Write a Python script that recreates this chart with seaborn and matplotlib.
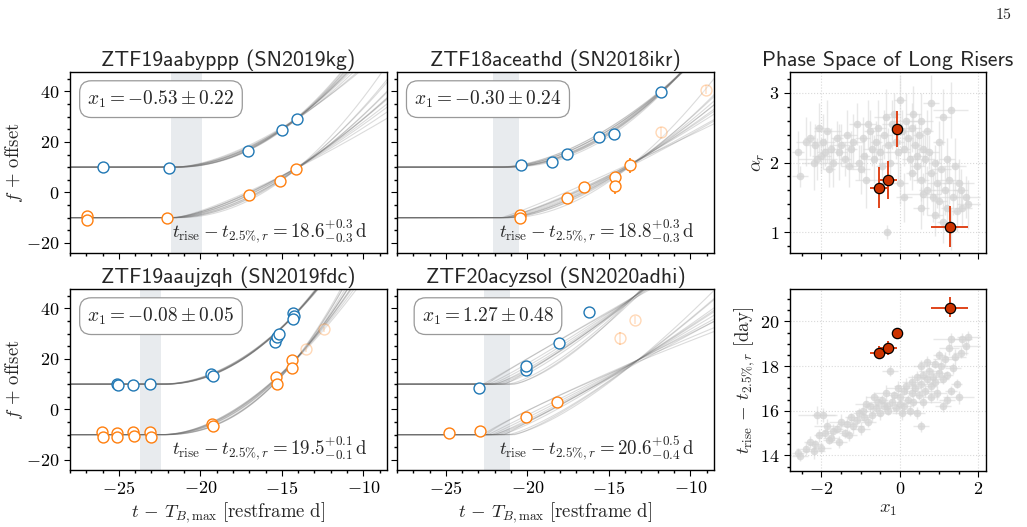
import numpy as np
import pandas as pd
import seaborn as sns
import matplotlib.pyplot as plt
from matplotlib.ticker import MultipleLocator

# ---------------------------------------------------------------------
# Light curves of the four long risers (t - T_Bmax, flux + offset)
titles = ['ZTF19aabyppp (SN2019kg)', 'ZTF18aceathd (SN2018ikr)',
          'ZTF19aaujzqh (SN2019fdc)', 'ZTF20acyzsol (SN2020adhi)']
x1_labels = ['-0.53 \\pm 0.22', '-0.30 \\pm 0.24', '-0.08 \\pm 0.05', '1.27 \\pm 0.48']
trise_labels = ['18.6^{+0.3}_{-0.3}', '18.8^{+0.3}_{-0.3}', '19.5^{+0.1}_{-0.1}', '20.6^{+0.5}_{-0.4}']
bands_t25 = [(-21.8, -19.9), (-22.1, -20.5), (-23.7, -22.4), (-22.65, -21.08)]
g_offset = 10
r_offset = -10

# SN2019kg
kg_g_t = [-25.98, -21.94, -17.1, -15.0, -14.1]
kg_g_f = [9.9, 9.6, 16.4, 24.8, 29.2]
kg_r_t = [-26.98, -26.98, -22.04, -17.04, -15.1, -14.14]
kg_r_f = [-9.3, -11.0, -10.2, -1.2, 4.6, 9.4]
# SN2018ikr
ikr_g_t = [-20.39, -18.49, -17.55, -15.63, -14.71, -11.8]
ikr_g_f = [10.9, 12.1, 15.4, 21.8, 23.2, 39.9]
ikr_r_t = [-20.47, -20.47, -17.55, -16.55, -14.65, -14.63, -13.69]
ikr_r_f = [-9.1, -10.2, -2.3, 2.1, 6.3, 2.7, 10.8]
ikr_r_err = [0.5, 0.5, 0.6, 0.8, 1.0, 3.5, 3.0]
ikr_r_late_t = [-11.8, -9.04]
ikr_r_late_f = [23.8, 40.7]
ikr_r_late_err = [2.2, 1.8]
# SN2019fdc
fdc_g_t = [-25.1, -25.05, -24.12, -23.12, -19.35, -19.24, -15.41, -15.27, -15.2, -14.33, -14.24, -14.3]
fdc_g_f = [10.1, 9.7, 9.7, 9.9, 14.0, 13.4, 26.8, 28.5, 29.8, 38.0, 37.0, 36.0]
fdc_r_t = [-26.02, -25.96, -25.14, -25.1, -24.14, -24.08, -23.08, -23.06, -19.27, -19.22,
           -15.35, -15.31, -14.39, -14.37]
fdc_r_f = [-9.1, -10.8, -9.5, -11.0, -9.1, -10.4, -9.1, -11.0, -5.8, -6.4, 12.7, 10.1, 19.6, 16.3]
fdc_r_late_t = [-13.49, -12.41]
fdc_r_late_f = [23.9, 31.8]
fdc_r_late_err = [1.0, 1.0]
# SN2020adhi
adhi_g_t = [-22.98, -20.06, -20.06, -18.08, -16.22]
adhi_g_f = [8.5, 15.6, 17.2, 26.4, 38.4]
adhi_g_err = [0.6, 1.8, 1.2, 0.8, 1.5]
adhi_r_t = [-24.82, -22.92, -20.06, -18.16]
adhi_r_f = [-9.45, -8.53, -2.86, 2.8]
adhi_r_late_t = [-14.29, -13.37]
adhi_r_late_f = [28.1, 35.4]
adhi_r_late_err = [2.5, 1.5]

# posterior draws of the rise model: (start time, rise at pivot epoch, power-law index)
kg_pivot = (-14.1, -14.14)
kg_g_draws = [(-21.6, 19.2, 1.95), (-21.5, 19.0, 2.0), (-21.8, 19.5, 1.9), (-21.4, 18.9, 2.05),
              (-21.7, 19.3, 1.85), (-21.6, 19.6, 2.1), (-21.5, 18.8, 1.8), (-21.9, 19.1, 2.0),
              (-21.3, 19.4, 1.95), (-21.6, 19.0, 1.7), (-21.7, 19.2, 2.15), (-21.5, 19.3, 1.6)]
kg_r_draws = [(-21.6, 19.4, 1.6), (-21.5, 19.0, 1.7), (-21.8, 19.8, 1.5), (-21.4, 19.2, 1.8),
              (-21.7, 19.6, 1.45), (-21.6, 18.9, 1.9), (-21.5, 19.5, 1.35), (-21.9, 19.3, 1.65),
              (-21.3, 19.1, 2.0), (-21.6, 19.7, 1.55), (-21.7, 19.0, 1.75), (-21.5, 19.4, 1.25)]
ikr_pivot = (-11.8, -13.7)
ikr_g_draws = [(-21.5, 29.9, 1.9), (-21.4, 29.5, 1.95), (-21.7, 30.3, 1.85), (-21.3, 29.2, 2.0),
               (-21.6, 30.0, 1.8), (-21.5, 29.6, 2.05), (-21.8, 30.5, 1.75), (-21.4, 29.8, 1.9),
               (-21.2, 29.0, 2.1), (-21.6, 30.2, 1.7), (-21.5, 29.4, 1.95), (-21.7, 30.0, 1.85)]
ikr_r_draws = [(-21.3, 20.8, 1.4), (-21.2, 20.4, 1.5), (-21.5, 21.2, 1.3), (-21.1, 20.6, 1.6),
               (-21.4, 21.0, 1.2), (-21.3, 20.2, 1.7), (-21.6, 21.4, 1.1), (-21.2, 20.9, 1.45),
               (-21.0, 20.5, 1.85), (-21.4, 21.1, 1.35), (-21.3, 20.7, 1.55), (-21.5, 20.3, 1.25)]
fdc_pivot = (-14.3, -14.4)
fdc_g_draws = [(-22.3, 27.0, 2.0), (-22.2, 26.8, 2.02), (-22.4, 27.2, 1.98), (-22.3, 27.1, 2.05),
               (-22.2, 26.9, 1.96), (-22.4, 27.0, 2.03), (-22.3, 26.7, 1.99), (-22.1, 27.3, 2.01),
               (-22.5, 27.0, 1.97), (-22.3, 26.9, 2.04), (-22.2, 27.1, 2.0), (-22.4, 26.8, 1.95)]
fdc_r_draws = [(-22.3, 28.0, 2.0), (-22.2, 27.6, 2.1), (-22.4, 28.4, 1.9), (-22.3, 27.8, 2.2),
               (-22.2, 28.2, 1.85), (-22.4, 27.9, 2.05), (-22.3, 28.3, 1.8), (-22.1, 27.7, 2.15),
               (-22.5, 28.1, 1.95), (-22.3, 27.9, 2.25), (-22.2, 28.0, 1.75), (-22.4, 28.2, 2.0)]
adhi_pivot = (-14.3, -14.3)
adhi_g_draws = [(-22.0, 30.6, 1.2), (-21.6, 30.0, 1.3), (-22.4, 31.2, 1.1), (-21.2, 29.5, 1.4),
                (-22.7, 31.5, 1.0), (-21.0, 29.0, 1.5), (-22.2, 30.8, 1.15), (-21.8, 30.3, 1.25),
                (-20.8, 28.5, 1.35), (-22.5, 31.0, 0.95), (-21.4, 29.8, 1.1), (-22.1, 30.4, 1.3)]
adhi_r_draws = [(-22.0, 25.6, 1.1), (-21.6, 25.0, 1.2), (-22.4, 26.2, 1.0), (-21.2, 24.5, 1.3),
                (-22.7, 26.5, 0.9), (-21.0, 24.0, 1.4), (-22.2, 25.8, 1.05), (-21.8, 25.3, 1.15),
                (-20.8, 24.2, 1.25), (-22.5, 26.0, 0.85), (-21.4, 24.8, 1.0), (-22.1, 25.4, 1.2)]

# ---------------------------------------------------------------------
# Phase space: full sample (grey) and the four long risers (red)
pop_x1 = [-2.60, -2.55, -2.40, -2.30, -2.20, -2.15, -2.05, -2.00, -1.95, -1.90, -1.85, -1.80,
          -1.75, -1.70, -1.60, -1.55, -1.50, -1.40, -1.35, -1.30, -1.25, -1.20, -1.10, -1.05,
          -1.00, -0.95, -0.90, -0.85, -0.80, -0.75, -0.70, -0.65, -0.60, -0.55, -0.50, -0.45,
          -0.40, -0.35, -0.30, -0.25, -0.20, -0.15, -0.10, -0.05, 0.00, 0.00, 0.05, 0.10,
          0.10, 0.15, 0.20, 0.25, 0.30, 0.30, 0.35, 0.40, 0.45, 0.45, 0.50, 0.55,
          0.55, 0.60, 0.65, 0.55, 0.70, 0.70, 0.75, 0.80, 0.80, 0.85, 0.90, 0.90,
          0.95, 1.00, 1.00, 1.05, 1.10, 1.10, 1.15, 1.20, 1.20, 1.25, 1.30, 1.35,
          1.40, 1.45, 1.50, 1.55, 1.60, 1.70, 1.75, 1.30, -0.32, -2.10, 0.60]
pop_x1_err = [0.15, 0.20, 0.25, 0.15, 0.30, 0.20, 0.15, 0.25, 0.30, 0.20, 0.35, 0.15,
              0.20, 0.25, 0.15, 0.20, 0.30, 0.15, 0.25, 0.20, 0.15, 0.30, 0.20, 0.15,
              0.25, 0.20, 0.15, 0.30, 0.20, 0.15, 0.25, 0.20, 0.15, 0.20, 0.25, 0.15,
              0.20, 0.30, 0.15, 0.20, 0.25, 0.15, 0.20, 0.30, 0.15, 0.20, 0.25, 0.15,
              0.20, 0.30, 0.15, 0.20, 0.25, 0.15, 0.20, 0.15, 0.25, 0.20, 0.15, 0.30,
              0.20, 0.15, 0.25, 0.20, 0.15, 0.20, 0.25, 0.15, 0.20, 0.30, 0.15, 0.20,
              0.25, 0.15, 0.20, 0.25, 0.15, 0.20, 0.30, 0.15, 0.20, 0.25, 0.15, 0.20,
              0.30, 0.15, 0.40, 0.20, 0.25, 0.35, 0.30, 0.45, 0.10, 0.50, 0.45]
pop_alpha = [2.15, 1.80, 2.30, 2.35, 2.00, 2.25, 2.50, 2.10, 2.30, 2.15, 2.45, 1.90,
             2.20, 2.00, 2.35, 2.15, 2.25, 2.05, 2.40, 1.95, 2.20, 2.30, 2.55, 2.00,
             1.90, 2.35, 2.10, 1.75, 2.55, 2.45, 2.20, 2.05, 2.30, 2.50, 2.15, 1.95,
             2.40, 2.65, 2.25, 2.00, 2.55, 2.70, 2.30, 2.15, 2.90, 1.70, 2.45, 2.20,
             1.50, 2.60, 2.35, 2.05, 2.50, 1.85, 2.70, 2.25, 2.10, 1.95, 2.40, 2.60,
             1.75, 2.20, 2.05, 1.35, 2.45, 1.60, 2.15, 1.85, 2.85, 1.50, 2.00, 1.25,
             1.70, 2.30, 1.45, 1.90, 1.15, 2.65, 1.60, 1.35, 2.05, 1.75, 1.05, 1.50,
             1.95, 1.30, 1.70, 1.60, 1.35, 1.50, 1.40, 2.75, 1.00, 2.05, 1.55]
pop_alpha_err = [0.30, 0.15, 0.35, 0.25, 0.40, 0.30, 0.35, 0.25, 0.40, 0.20, 0.45, 0.25,
                 0.30, 0.35, 0.25, 0.40, 0.30, 0.25, 0.35, 0.30, 0.25, 0.40, 0.30, 0.25,
                 0.35, 0.30, 0.25, 0.40, 0.35, 0.30, 0.25, 0.35, 0.30, 0.40, 0.25, 0.30,
                 0.35, 0.40, 0.25, 0.30, 0.35, 0.30, 0.25, 0.40, 0.35, 0.30, 0.30, 0.25,
                 0.35, 0.40, 0.25, 0.30, 0.35, 0.25, 0.40, 0.30, 0.35, 0.25, 0.30, 0.40,
                 0.30, 0.25, 0.35, 0.30, 0.30, 0.35, 0.25, 0.30, 0.40, 0.35, 0.25, 0.30,
                 0.35, 0.30, 0.25, 0.35, 0.30, 0.40, 0.35, 0.25, 0.30, 0.35, 0.30, 0.25,
                 0.40, 0.30, 0.35, 0.30, 0.25, 0.30, 0.35, 0.40, 0.10, 0.30, 0.30]
pop_trise = [14.10, 13.95, 14.30, 14.60, 14.20, 14.50, 14.90, 14.35, 15.80, 15.00, 15.30, 14.70,
             14.80, 15.10, 15.20, 14.60, 15.50, 15.00, 15.40, 14.90, 15.70, 15.30, 15.60, 15.90,
             15.20, 16.00, 15.70, 16.30, 15.50, 16.20, 15.80, 16.60, 16.10, 16.40, 15.90, 16.50,
             16.20, 16.80, 16.00, 17.80, 16.40, 16.70, 16.10, 17.00, 16.30, 16.60, 15.90, 16.90,
             16.20, 17.10, 16.50, 16.00, 17.30, 16.80, 16.40, 17.00, 17.50, 15.90, 16.70, 17.20,
             18.00, 17.60, 16.90, 15.30, 17.40, 18.20, 17.80, 17.10, 16.60, 17.50, 18.10, 17.30,
             16.80, 18.50, 17.70, 18.00, 17.40, 16.20, 18.30, 17.60, 16.50, 18.80, 16.90, 17.90,
             18.40, 17.20, 16.60, 18.60, 19.20, 18.90, 19.30, 19.20, 16.20, 15.80, 16.40]
pop_trise_err = [0.25, 0.20, 0.30, 0.25, 0.35, 0.20, 0.30, 0.25, 0.30, 0.20, 0.35, 0.20,
                 0.25, 0.30, 0.20, 0.25, 0.35, 0.20, 0.30, 0.25, 0.20, 0.35, 0.25, 0.20,
                 0.30, 0.25, 0.20, 0.35, 0.25, 0.20, 0.30, 0.25, 0.20, 0.25, 0.30, 0.20,
                 0.25, 0.35, 0.20, 0.25, 0.30, 0.20, 0.25, 0.35, 0.20, 0.25, 0.30, 0.20,
                 0.25, 0.35, 0.20, 0.25, 0.30, 0.20, 0.25, 0.20, 0.30, 0.25, 0.20, 0.35,
                 0.25, 0.20, 0.30, 0.25, 0.20, 0.25, 0.30, 0.20, 0.25, 0.35, 0.20, 0.25,
                 0.30, 0.20, 0.25, 0.30, 0.20, 0.25, 0.35, 0.20, 0.25, 0.30, 0.20, 0.25,
                 0.35, 0.20, 0.30, 0.25, 0.30, 0.40, 0.25, 0.30, 0.20, 0.40, 0.30]

sel_x1 = [-0.53, -0.30, -0.08, 1.27]
sel_x1_err = [0.22, 0.24, 0.05, 0.48]
sel_alpha = [1.64, 1.75, 2.48, 1.08]
sel_alpha_err = [0.30, 0.27, 0.26, 0.30]
sel_trise = [18.6, 18.8, 19.5, 20.6]
sel_trise_lo = [0.3, 0.3, 0.1, 0.4]
sel_trise_hi = [0.3, 0.3, 0.1, 0.5]

# ---------------------------------------------------------------------
sns.set_theme(style='ticks')
plt.rcParams.update({
    'font.family': 'serif',
    'font.serif': ['cmr10'],
    'mathtext.fontset': 'cm',
    'axes.formatter.use_mathtext': True,
    'axes.edgecolor': 'black',
    'axes.linewidth': 1.0,
    'xtick.color': 'black', 'ytick.color': 'black',
    'xtick.labelsize': 13, 'ytick.labelsize': 13,
    'xtick.major.size': 4, 'ytick.major.size': 4,
    'xtick.minor.size': 2, 'ytick.minor.size': 2,
    'xtick.major.width': 0.8, 'ytick.major.width': 0.8,
})

BLUE = '#1f77b4'
ORANGE = '#ff7f0e'
RED = '#cc3300'

fig = plt.figure(figsize=(10.27, 5.27), dpi=100)
W, H = 1027, 527


def add_ax(x0, x1, y0, y1):
    return fig.add_axes([x0 / W, 1 - y1 / H, (x1 - x0) / W, (y1 - y0) / H])


lc_axes = [add_ax(70, 387, 72, 253), add_ax(397, 714, 72, 253),
           add_ax(70, 387, 289, 470), add_ax(397, 714, 289, 470)]
ax_alpha = add_ax(790, 986, 72, 253)
ax_trise = add_ax(790, 986, 289, 471)

t_grid = np.linspace(-28.5, -8.0, 400)


def draw_fan(ax, draws, pivot, base):
    rows = []
    for k, (t0, rise, index) in enumerate(draws):
        dt = np.clip(t_grid - t0, 0, None) / (pivot - t0)
        rows.append(pd.DataFrame({'t': t_grid, 'f': base + rise * dt ** index, 'draw': k}))
    df = pd.concat(rows)
    sns.lineplot(data=df, x='t', y='f', units='draw', estimator=None, color='0.42',
                 alpha=0.24, lw=0.8, ax=ax, legend=False, zorder=1)


def draw_points(ax, t, f, c, err=None, alpha=1.0):
    if err is not None:
        ax.errorbar(t, f, yerr=err, fmt='none', ecolor=c, elinewidth=1.2, alpha=alpha, zorder=2)
    sns.scatterplot(x=t, y=f, ax=ax, color='white', edgecolor=c, s=62, linewidth=1.0,
                    alpha=alpha, zorder=3, legend=False)


lc_data = [
    (kg_g_t, kg_g_f, None, kg_r_t, kg_r_f, None, None, None, None, kg_g_draws, kg_r_draws, kg_pivot),
    (ikr_g_t, ikr_g_f, None, ikr_r_t, ikr_r_f, ikr_r_err, ikr_r_late_t, ikr_r_late_f, ikr_r_late_err,
     ikr_g_draws, ikr_r_draws, ikr_pivot),
    (fdc_g_t, fdc_g_f, None, fdc_r_t, fdc_r_f, None, fdc_r_late_t, fdc_r_late_f, fdc_r_late_err,
     fdc_g_draws, fdc_r_draws, fdc_pivot),
    (adhi_g_t, adhi_g_f, adhi_g_err, adhi_r_t, adhi_r_f, None, adhi_r_late_t, adhi_r_late_f,
     adhi_r_late_err, adhi_g_draws, adhi_r_draws, adhi_pivot),
]

for i, ax in enumerate(lc_axes):
    (gt, gf, gerr, rt, rf, rerr, lt, lf, lerr, gdraws, rdraws, pivot) = lc_data[i]
    ax.axvspan(*bands_t25[i], color='#e3e6ea', alpha=0.8, lw=0, zorder=0)
    draw_fan(ax, gdraws, pivot[0], g_offset)
    draw_fan(ax, rdraws, pivot[1], r_offset)
    draw_points(ax, gt, gf, BLUE, gerr)
    draw_points(ax, rt, rf, ORANGE, rerr)
    if lt is not None:
        draw_points(ax, lt, lf, ORANGE, lerr, alpha=0.3)

    ax.set_xlim(-28, -8.55)
    ax.set_ylim(-24, 47.7)
    ax.xaxis.set_major_locator(MultipleLocator(5))
    ax.xaxis.set_minor_locator(MultipleLocator(1))
    ax.yaxis.set_major_locator(MultipleLocator(20))
    ax.yaxis.set_minor_locator(MultipleLocator(5))
    ax.tick_params(which='both', direction='out')
    ax.set_title(titles[i], fontsize=15.7, family='cmss10', pad=4)
    ax.text(0.287, 0.85, f'$x_1 = {x1_labels[i]}$', transform=ax.transAxes, fontsize=13.9,
            ha='center', va='center',
            bbox=dict(boxstyle='round,pad=0.4,rounding_size=0.6', fc='white', ec='0.6', lw=0.9))
    ax.text(0.94, 0.115, r'$t_\mathrm{rise} - t_{2.5\%,r} = ' + trise_labels[i] + r'\,\mathrm{d}$',
            transform=ax.transAxes, fontsize=13.6, ha='right', va='center')
    if i < 2:
        ax.set_xticklabels([])
        ax.set_xlabel('')
    else:
        ax.set_xlabel(r'$t\,-\,T_{B,\mathrm{max}}\ [\mathrm{restframe\ d}]$', fontsize=13.5,
                      labelpad=2)
    if i % 2 == 0:
        ax.set_ylabel(r'$f\,+\,\mathrm{offset}$', fontsize=13.5, labelpad=1)
    else:
        ax.set_yticklabels([])
        ax.set_ylabel('')

# phase-space panels
for ax, y, yerr_sel, yerr_pop in [
        (ax_alpha, (pop_alpha, sel_alpha), sel_alpha_err, pop_alpha_err),
        (ax_trise, (pop_trise, sel_trise), [sel_trise_lo, sel_trise_hi], pop_trise_err)]:
    ax.grid(True, ls=':', color='0.85', lw=0.8)
    ax.set_axisbelow(True)
    ax.errorbar(pop_x1, y[0], xerr=pop_x1_err, yerr=yerr_pop, fmt='none', ecolor='#d9d9d9',
                elinewidth=1.0, alpha=0.6, zorder=1)
    sns.scatterplot(x=pop_x1, y=y[0], ax=ax, color='#d3d3d3', s=30, linewidth=0, alpha=0.75,
                    zorder=2, legend=False)
    ax.errorbar(sel_x1, y[1], xerr=sel_x1_err, yerr=yerr_sel, fmt='none', ecolor='#e0441a',
                elinewidth=1.4, zorder=3)
    sns.scatterplot(x=sel_x1, y=y[1], ax=ax, color=RED, edgecolor='black', s=55, linewidth=0.9,
                    zorder=4, legend=False)
    ax.set_xlim(-2.8, 2.2)
    ax.xaxis.set_major_locator(MultipleLocator(2))
    ax.xaxis.set_minor_locator(MultipleLocator(0.5))
    ax.tick_params(which='both', direction='out')

ax_alpha.set_ylim(0.7, 3.3)
ax_alpha.yaxis.set_major_locator(MultipleLocator(1))
ax_alpha.yaxis.set_minor_locator(MultipleLocator(0.2))
ax_alpha.set_xticklabels([])
ax_alpha.set_xlabel('')
ax_alpha.set_ylabel(r'$\alpha_r$', fontsize=13.5, labelpad=2)
ax_alpha.set_title('Phase Space of Long Risers', fontsize=15.7, family='cmss10', pad=4)

ax_trise.set_ylim(13.3, 21.45)
ax_trise.yaxis.set_major_locator(MultipleLocator(2))
ax_trise.yaxis.set_minor_locator(MultipleLocator(0.5))
ax_trise.set_xlabel(r'$x_1$', fontsize=13.5, labelpad=2)
ax_trise.set_ylabel(r'$t_\mathrm{rise}\,-\,t_{2.5\%,r}\ [\mathrm{day}]$', fontsize=13.5, labelpad=2)

fig.text(0.977, 0.972, '15', fontsize=11.5, ha='center', va='center')

fig.savefig('out.png', dpi=100)
